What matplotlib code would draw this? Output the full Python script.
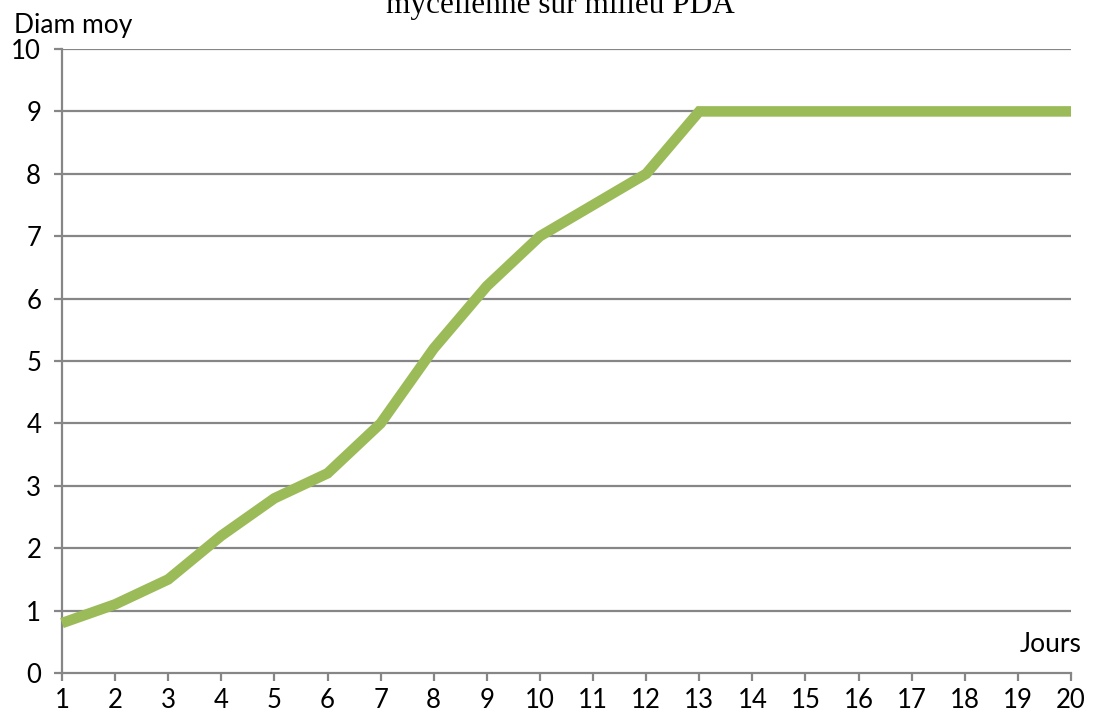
import matplotlib
matplotlib.use("Agg")
import matplotlib.pyplot as plt

# Mean mycelial diameter per day
jours = list(range(1, 21))
diam_moy = [0.8, 1.1, 1.5, 2.2, 2.8, 3.2, 4.0, 5.2, 6.2, 7.0,
            7.5, 8.0, 9.0, 9.0, 9.0, 9.0, 9.0, 9.0, 9.0, 9.0]
y_ticks = list(range(0, 11))

W, H, DPI = 1093, 720, 100
fig = plt.figure(figsize=(W / DPI, H / DPI), dpi=DPI)
ax = fig.add_axes([62 / W, (H - 673) / H, (1071 - 62) / W, (673 - 49) / H])

grid_col = "#868686"
font = ["Lato", "DejaVu Sans"]

ax.plot(jours, diam_moy, color="#9BBB59", linewidth=7.6, solid_joinstyle="miter",
        solid_capstyle="butt", zorder=3, clip_on=False)

ax.set_xlim(1, 20)
ax.set_ylim(0, 10)
ax.set_xticks(jours)
ax.set_yticks(y_ticks)
for v in y_ticks[1:]:
    ax.axhline(v, color=grid_col, linewidth=1.6, zorder=1)

for s in ("top", "right"):
    ax.spines[s].set_visible(False)
for s in ("left", "bottom"):
    ax.spines[s].set_color(grid_col)
    ax.spines[s].set_linewidth(1.6)

ax.tick_params(axis="both", colors=grid_col, width=1.6, length=6, direction="out",
               labelcolor="black", labelsize=18.5)
ax.tick_params(axis="x", pad=5)
ax.tick_params(axis="y", pad=9)
for lab in ax.get_xticklabels() + ax.get_yticklabels():
    lab.set_family(font)

fig.text(14 / W, 1 - 33 / H, "Diam moy", fontsize=19, family=font, ha="left", va="baseline")
fig.text(1082 / W, 1 - 652 / H, "Jours", fontsize=19, family=font, ha="right", va="baseline")
fig.text(560 / W, 1 - 13 / H, "mycélienne sur milieu PDA", fontsize=22.5,
         family=["Liberation Serif", "DejaVu Serif"], ha="center", va="baseline")

fig.savefig("out.png", dpi=DPI)
